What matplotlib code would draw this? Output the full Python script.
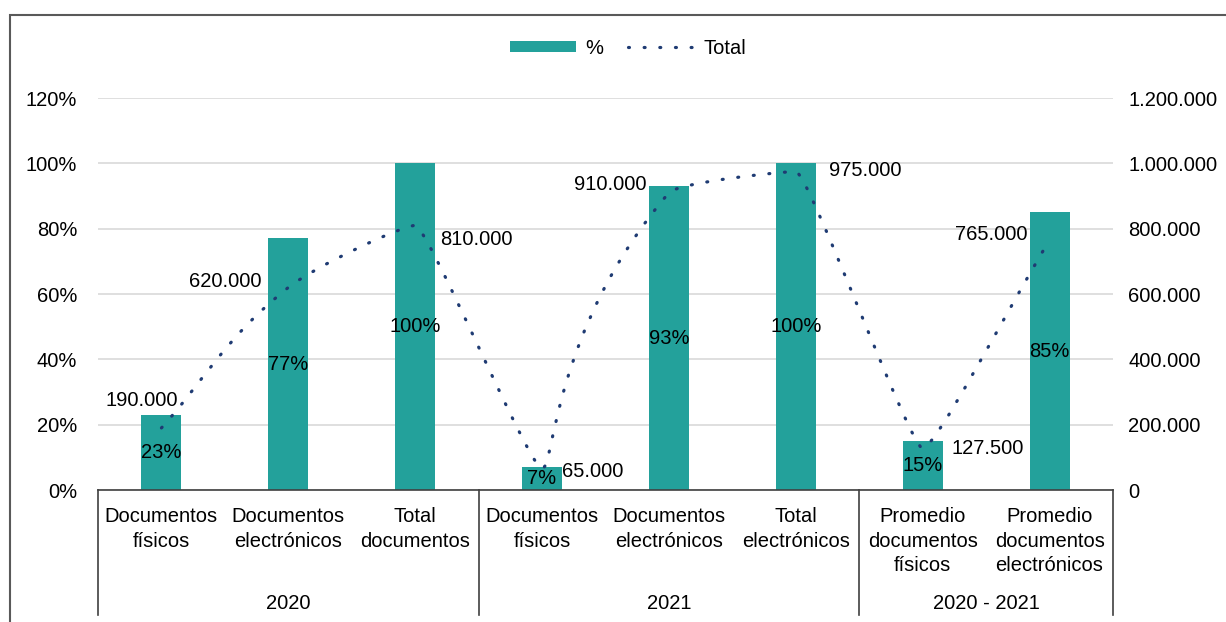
import matplotlib
matplotlib.use("Agg")
import matplotlib.pyplot as plt
from matplotlib.path import Path
from matplotlib.patches import PathPatch, Patch, Rectangle
from matplotlib.lines import Line2D
from matplotlib.ticker import FuncFormatter
import numpy as np

# data
categorias = ["Documentos\nfísicos", "Documentos\nelectrónicos", "Total\ndocumentos",
              "Documentos\nfísicos", "Documentos\nelectrónicos", "Total\nelectrónicos",
              "Promedio\ndocumentos\nfísicos", "Promedio\ndocumentos\nelectrónicos"]
grupos = ["2020", "2021", "2020 - 2021"]
grupo_tam = [3, 3, 2]
porcentaje = [23, 77, 100, 7, 93, 100, 15, 85]
total = [190000, 620000, 810000, 65000, 910000, 975000, 127500, 765000]

TEAL = "#23A19B"
NAVY = "#1F3B73"
plt.rcParams["font.family"] = ["Liberation Sans", "DejaVu Sans"]
FS = 14.5

fig = plt.figure(figsize=(12.26, 6.22), dpi=100)
W, H = 1226, 622
ax = fig.add_axes([98 / W, 1 - 490 / H, 1015 / W, 392 / H])
ax2 = ax.twinx()

x = list(range(len(categorias)))
ax.bar(x, porcentaje, width=0.315, color=TEAL, zorder=2)
ax.set_xlim(-0.5, len(categorias) - 0.5)
ax.set_ylim(0, 120)
ax.set_yticks(range(0, 121, 20))
ax.yaxis.set_major_formatter(FuncFormatter(lambda v, p: f"{v:.0f}%"))
ax.grid(axis="y", color="#D9D9D9", lw=1.2, zorder=0)
ax.set_axisbelow(True)
ax.set_xticks([])
ax.tick_params(axis="y", length=0, pad=15, labelsize=FS)
for s in ax.spines.values():
    s.set_visible(False)

ax2.set_ylim(0, 1200000)
ax2.set_yticks(range(0, 1200001, 200000))
ax2.yaxis.set_major_formatter(FuncFormatter(lambda v, p: f"{v:,.0f}".replace(",", ".")))
ax2.tick_params(axis="y", length=0, pad=11, labelsize=FS)
for s in ax2.spines.values():
    s.set_visible(False)

# % labels in the middle of the bars
for xi, p in zip(x, porcentaje):
    ax.text(xi, p / 2, f"{p}%", ha="center", va="center", fontsize=FS, zorder=5)

# smoothed line: bezier through the points, worked out in pixel space
sx = 1015 / len(categorias)
sy = 392 / 1200000
P = np.column_stack([np.array(x) * sx, np.array(total) * sy])
n = len(P)
arms_out, arms_in = [], []
for i in range(n):
    if i == 0:
        arms_in.append(np.zeros(2))
        arms_out.append((P[1] - P[0]) / 3)
        continue
    if i == n - 1:
        arms_in.append((P[i] - P[i - 1]) / 3)
        arms_out.append(np.zeros(2))
        continue
    a, b, c = P[i - 1], P[i], P[i + 1]
    T = c - a
    if (b[1] - a[1]) * (c[1] - b[1]) < 0:
        # peak or valley: short, flat handles -> tight turn
        arms_in.append(np.array([T[0] * 0.05, 0.0]))
        arms_out.append(np.array([T[0] * 0.05, 0.0]))
        continue
    d_in = np.hypot(*(b - a))
    d_out = np.hypot(*(c - b))
    tot = d_in + d_out
    arms_in.append(T * (d_in / tot) ** 3 * 4 / 3)
    arms_out.append(T * (d_out / tot) ** 3 * 4 / 3)
verts = [tuple(P[0])]
codes = [Path.MOVETO]
for i in range(n - 1):
    c1 = P[i] + arms_out[i]
    c2 = P[i + 1] - arms_in[i + 1]
    for v in (c1, c2, P[i + 1]):
        verts.append(tuple(v))
    codes += [Path.CURVE4] * 3
verts = [(vx / sx, vy / sy) for vx, vy in verts]
ls = (0, (0.3, 4.6))
ax2.add_patch(PathPatch(Path(verts, codes), fill=False, edgecolor=NAVY, lw=2.3,
                        linestyle=ls, capstyle="round", zorder=4))

# total labels
offs = [(-14, 20, "center"), (-19, 4, "right"), (18, -10, "left"), (14, -2, "left"),
        (-16, 6, "right"), (24, 1, "left"), (21, 0, "left"), (-16, 4, "right")]
for xi, t, (dx, dy, ha) in zip(x, total, offs):
    ax2.annotate(f"{t:,.0f}".replace(",", "."), (xi, t), xytext=(dx, dy),
                 textcoords="offset points", ha=ha, va="center", fontsize=FS, zorder=6)

# multi-level category axis
tr = ax.get_xaxis_transform()
ax.plot([-0.5, len(categorias) - 0.5], [0, 0], color="#404040", lw=1.2,
        transform=tr, clip_on=False)
for xi, c in zip(x, categorias):
    ax.text(xi, -0.043, c, ha="center", va="top", fontsize=FS, transform=tr,
            linespacing=1.38)
start = -0.5
bounds = [start]
for g, k in zip(grupos, grupo_tam):
    ax.text(start + k / 2, -0.29, g, ha="center", va="center", fontsize=FS, transform=tr)
    start += k
    bounds.append(start)
for b in bounds:
    ax.plot([b, b], [0, -0.319], color="#404040", lw=1.2, transform=tr, clip_on=False)

# legend
handles = [Patch(facecolor=TEAL, edgecolor="none"),
           Line2D([], [], color=NAVY, lw=2.3, linestyle=ls, dash_capstyle="round")]
fig.legend(handles, ["%", "Total"], loc="center", bbox_to_anchor=(628 / W, 1 - 48 / H),
           ncol=2, frameon=False, fontsize=FS, handlelength=3.3, handleheight=0.5,
           columnspacing=1.2, handletextpad=0.45)

# chart border
fig.add_artist(Rectangle((9.5 / W, -0.1), 1.2, 1 - 15 / H + 0.1, transform=fig.transFigure,
                         fill=False, edgecolor="#595959", lw=1.5))

fig.savefig("out.png", dpi=100)
